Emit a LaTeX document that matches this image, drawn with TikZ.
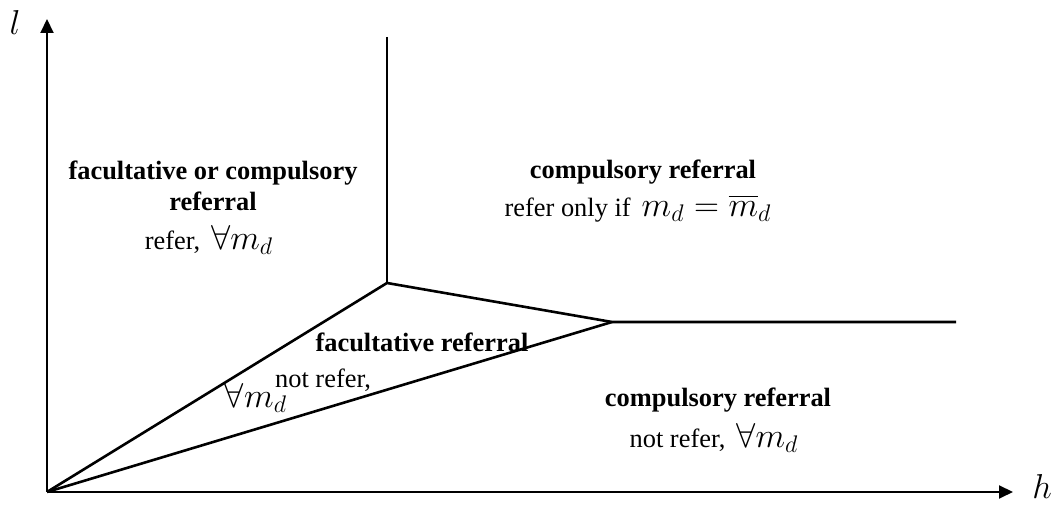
\documentclass[tikz,border=0pt]{standalone}
\usepackage{fontspec}
\setmainfont{Liberation Serif}
\usepackage{amsmath,amssymb}
\usetikzlibrary{arrows.meta}
\newcommand{\mth}[1]{{\fontsize{17.5}{20}\selectfont$#1$}}
\tikzset{axis/.style={line width=1pt, -{Triangle[length=7pt,width=6.5pt]}}}
\tikzset{border/.style={line width=1.3pt}}
\tikzset{title/.style={font=\fontsize{13.2}{15}\selectfont\bfseries, inner sep=0pt}}
\tikzset{note/.style={font=\fontsize{13.2}{15}\selectfont, inner sep=0pt}}

\begin{document}
\begin{tikzpicture}[x=0.5pt, y=-0.5pt]
  \useasboundingbox (0,0) rectangle (1056,506);

  \coordinate (O) at (47,492);
  \coordinate (ltip) at (47,19);
  \coordinate (htip) at (1013,492);
  \coordinate (top) at (387,37);
  \coordinate (A) at (387,283);
  \coordinate (B) at (612,322);
  \coordinate (E) at (956,322);

  \draw[axis] (O) -- (ltip);
  \draw[axis] (O) -- (htip);
  \node[note] (l) at (15,23) {\mth{l}};
  \node[note] (h) at (1042,487) {\mth{h}};

  \draw[border] (top) -- (A);
  \draw[border] (O) -- (A) -- (B) -- (E);
  \draw[border] (O) -- (B);

  % upper left
  \node[title] (fc1) at (213,173) {facultative or compulsory};
  \node[title] (fc2) at (213,201) {referral};
  \node[note] (fc3) at (209,240) {refer,\, \mth{\forall m_d}};

  % upper right
  \node[title] (cr1) at (643,172) {compulsory referral};
  \node[note] (cr2) at (638,208) {refer only if\, \mth{m_d=\overline{m}_d}};

  % middle
  \node[title] (fr1) at (422,342) {facultative referral};
  \node[note] (fr2) at (323,380) {not refer,};
  \node[note] (fr3) at (256,398) {\mth{\forall m_d}};

  % lower right
  \node[title] (cr3) at (718,400) {compulsory referral};
  \node[note] (cr4) at (714,438) {not refer,\, \mth{\forall m_d}};

\end{tikzpicture}
\end{document}
